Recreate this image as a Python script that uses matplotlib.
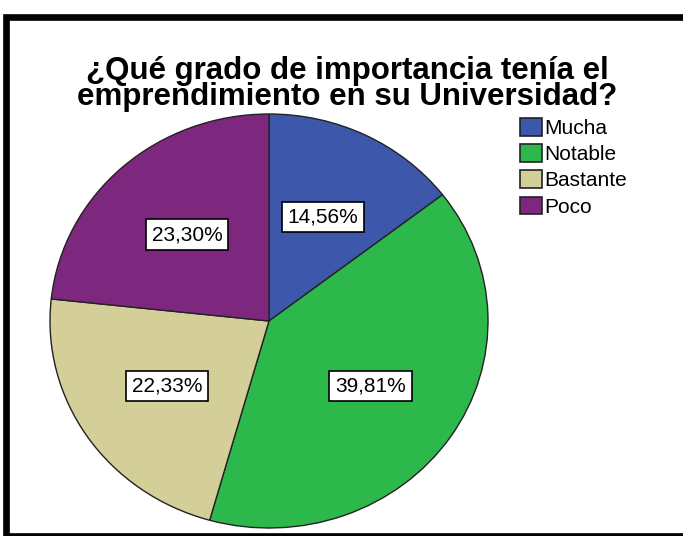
import matplotlib
matplotlib.use("Agg")
import matplotlib.pyplot as plt
from matplotlib.patches import Rectangle, Patch

plt.rcParams['font.family'] = ['Liberation Sans', 'DejaVu Sans']

title = "¿Qué grado de importancia tenía el\nemprendimiento en su Universidad?"
categories = ["Mucha", "Notable", "Bastante", "Poco"]
values = [14.56, 39.81, 22.33, 23.30]
colors = ["#3D57AB", "#2DB84C", "#D4CF98", "#7D287E"]

W, H = 683, 536
fig = plt.figure(figsize=(W / 100, H / 100), dpi=100)
fig.patch.set_facecolor("white")

# outer frame
frame = Rectangle((6 / W, 0.5 / H), 700 / W, (519 - 0.5) / H, transform=fig.transFigure,
                  fill=False, ec="black", lw=4.8, clip_on=False)
fig.add_artist(frame)

# pie axes (slightly elliptical as in reference)
cx, cy, rx, ry = 269, 536 - 321, 219, 207
ax = fig.add_axes([(cx - rx) / W, (cy - ry) / H, 2 * rx / W, 2 * ry / H])
wedges, texts, autotexts = ax.pie(
    values, colors=colors, startangle=90, counterclock=False,
    autopct=lambda p: f"{p:.2f}%".replace(".", ","), pctdistance=0.56,
    wedgeprops=dict(edgecolor="#222222", linewidth=1.0),
    textprops=dict(fontsize=15, color="black"))
for t in autotexts:
    t.set_bbox(dict(boxstyle="square,pad=0.28", fc="white", ec="black", lw=1.2))
ax.set_aspect("auto")
ax.set_xlim(-1.0, 1.0)
ax.set_ylim(-1.0, 1.0)
ax.axis("off")

fig.text(347 / W, (536 - 84) / H, title, ha="center", va="center",
         fontsize=22.5, fontweight="bold", linespacing=0.86)

handles = [Patch(facecolor=c, edgecolor="#222222", lw=1.2) for c in colors]
leg = fig.legend(handles, categories, loc="upper left",
                 bbox_to_anchor=(520 / W, (536 - 118) / H), frameon=False,
                 fontsize=15, handlelength=1.05, handleheight=0.92,
                 handletextpad=0.12, labelspacing=0.3, borderaxespad=0, borderpad=0)

fig.savefig("out.png", dpi=100, facecolor="white")
